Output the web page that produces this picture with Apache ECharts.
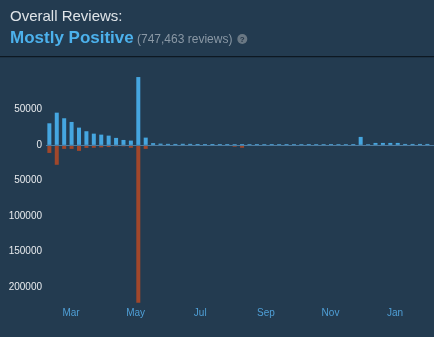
<!DOCTYPE html>
<html>
<head>
<meta charset="utf-8">
<script src="https://cdn.jsdelivr.net/npm/echarts@6/dist/echarts.min.js"></script>
<style>
html,body{margin:0;padding:0;background:#233b50;}
#chart{width:434px;height:337px;}
</style>
</head>
<body>
<div id="chart"></div>
<script>
// Week start dates (one bar per week)
const weeks = [
  '2024-02-09','2024-02-16','2024-02-23','2024-03-01','2024-03-08','2024-03-15','2024-03-22','2024-03-29',
  '2024-04-05','2024-04-12','2024-04-19','2024-04-26','2024-05-03','2024-05-10','2024-05-17','2024-05-24',
  '2024-05-31','2024-06-07','2024-06-14','2024-06-21','2024-06-28','2024-07-05','2024-07-12','2024-07-19',
  '2024-07-26','2024-08-02','2024-08-09','2024-08-16','2024-08-23','2024-08-30','2024-09-06','2024-09-13',
  '2024-09-20','2024-09-27','2024-10-04','2024-10-11','2024-10-18','2024-10-25','2024-11-01','2024-11-08',
  '2024-11-15','2024-11-22','2024-11-29','2024-12-06','2024-12-13','2024-12-20','2024-12-27','2025-01-03',
  '2025-01-10','2025-01-17','2025-01-24','2025-01-31'
];
// Positive reviews per week
const positive = [
  30500,45500,37600,32400,24400,19300,15900,14500,
  13100,9900,7000,6100,95700,10300,2500,1800,
  1500,1400,1600,1500,1300,1200,1300,1200,
  1200,1100,1200,1100,1200,1100,1200,1100,
  1200,1100,1100,1200,1100,1100,1200,1100,
  1100,1200,11300,1000,2800,2800,2800,2800,
  1400,1400,1400,1400
];
// Negative reviews per week
const negative = [
  11300,28000,5600,5600,8400,4200,4000,3500,
  3000,2000,2000,4000,222500,5600,1000,400,
  300,300,300,300,300,300,300,300,
  300,2500,4000,300,300,300,300,300,
  300,300,300,300,300,300,300,300,
  300,300,700,300,300,300,300,300,
  300,300,300,300
];
// Axis tick labels
const xTickDates = ['2024-03-01','2024-05-01','2024-07-01','2024-09-01','2024-11-01','2025-01-01'];
const xTickLabels = ['Mar','May','Jul','Sep','Nov','Jan'];
const yTickValues = [50000, 0, -50000, -100000, -150000, -200000];

const ts = d => new Date(d + 'T12:00:00Z').getTime();
const tickTs = xTickDates.map(d => new Date(d + 'T00:00:00Z').getTime());
const FONT = '"Liberation Sans", Arial, sans-serif';

const chart = echarts.init(document.getElementById('chart'), null, {renderer: 'canvas'});
chart.setOption({
  animation: false,
  backgroundColor: '#233b50',
  grid: {left: 46, right: 0, top: 74, bottom: 32.5, containLabel: false},
  xAxis: {
    type: 'value',
    min: new Date('2024-02-06T08:00:00Z').getTime(),
    max: new Date('2025-02-06T18:00:00Z').getTime(),
    axisLine: {show: false, onZero: false},
    axisTick: {show: false},
    splitLine: {show: false},
    axisLabel: {
      customValues: tickTs,
      color: '#4f9fd6',
      fontFamily: FONT,
      fontSize: 10,
      margin: 4,
      formatter: function (v) {
        const i = tickTs.indexOf(v);
        return i >= 0 ? xTickLabels[i] : '';
      }
    }
  },
  yAxis: {
    type: 'value',
    min: -225000,
    max: 100000,
    axisLine: {show: false},
    axisTick: {show: false},
    splitLine: {show: false},
    axisLabel: {
      customValues: yTickValues,
      color: '#e8ebee',
      fontFamily: FONT,
      fontSize: 10,
      margin: 4,
      formatter: v => String(Math.abs(v))
    }
  },
  series: [
    {
      type: 'bar',
      name: 'Positive',
      data: weeks.map((w, i) => [ts(w), positive[i]]),
      barWidth: 4,
      barGap: '-100%',
      itemStyle: {color: '#45a6e0'},
      z: 3,
      markLine: {
        silent: true,
        symbol: 'none',
        label: {show: false},
        lineStyle: {color: '#4d7b9f', width: 1, type: 'solid'},
        data: [{yAxis: 0}]
      }
    },
    {
      type: 'bar',
      name: 'Negative',
      data: weeks.map((w, i) => [ts(w), -negative[i]]),
      barWidth: 4,
      barGap: '-100%',
      itemStyle: {color: '#a0472b'},
      z: 3
    }
  ],
  graphic: [
    {type: 'text', left: 10, top: 9, style: {text: 'Overall Reviews:', fill: '#dfe4e8', font: '15px ' + FONT}},
    {type: 'text', left: 10, top: 30, style: {text: 'Mostly Positive', fill: '#4cb1ec', font: 'bold 17px ' + FONT}},
    {type: 'text', left: 137, top: 34, style: {text: '(747,463 reviews)', fill: '#8a98a5', font: '12px ' + FONT}},
    {type: 'circle', shape: {cx: 242.3, cy: 39, r: 5}, style: {fill: '#6a7884'}},
    {type: 'text', x: 242.3, y: 39.3, style: {text: '?', fill: '#223447', font: 'bold 8px ' + FONT, align: 'center', verticalAlign: 'middle'}},
    {type: 'rect', shape: {x: 0, y: 56, width: 434, height: 1.2}, style: {fill: '#0d1822'}}
  ]
});
</script>
</body>
</html>
